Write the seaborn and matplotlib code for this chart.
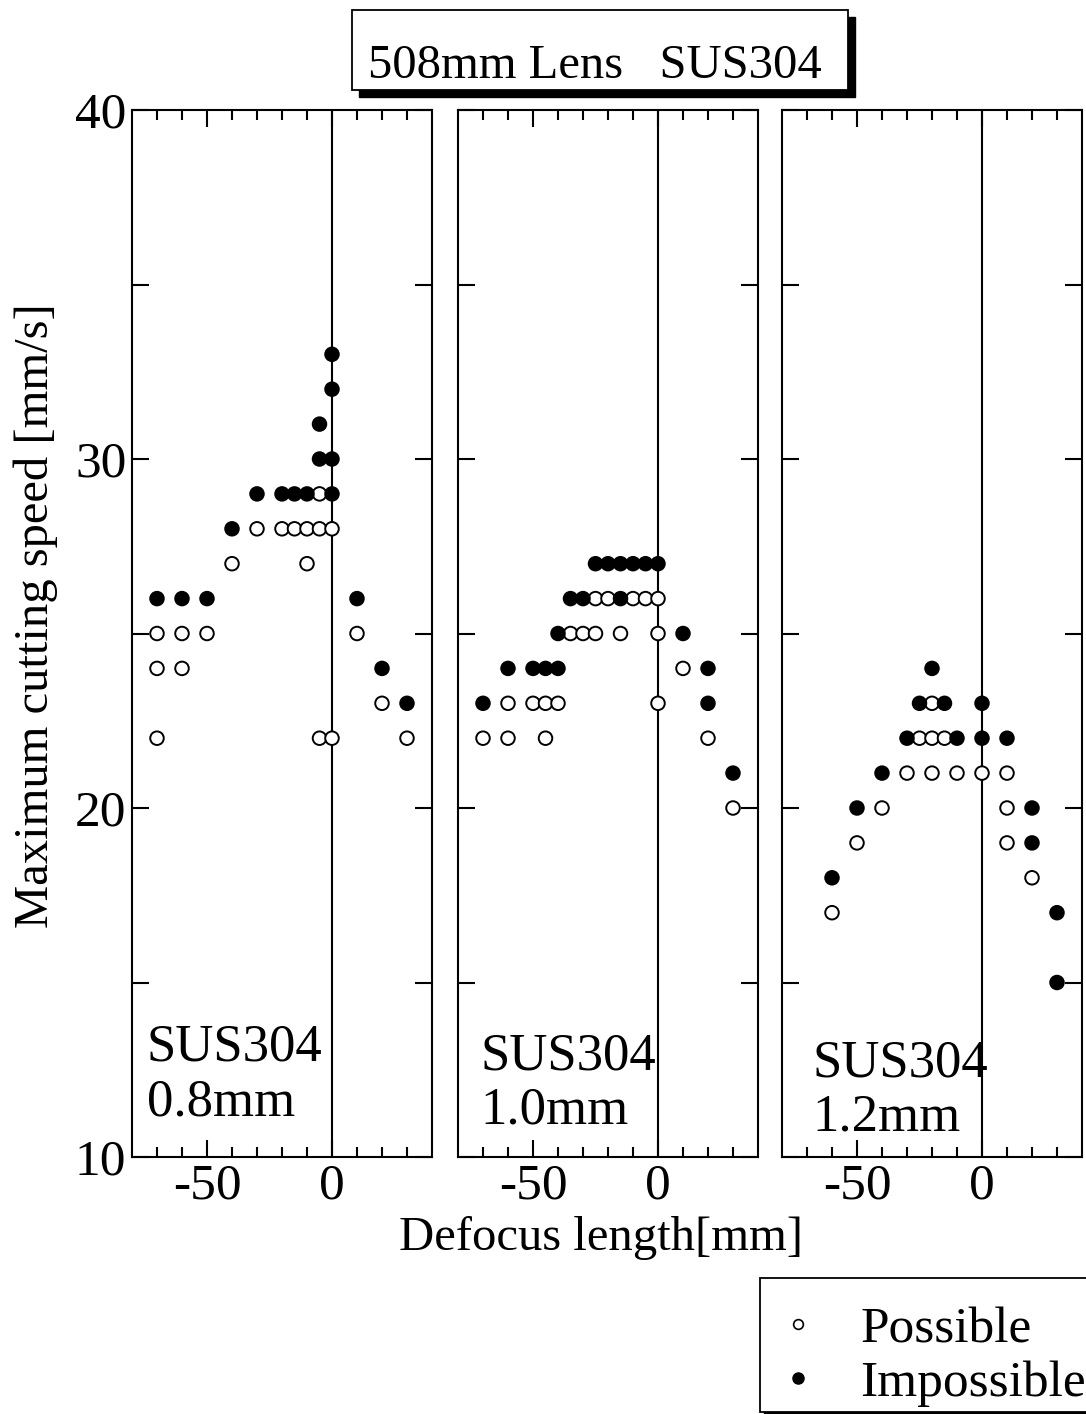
import numpy as np
import pandas as pd
import matplotlib
matplotlib.use("Agg")
import matplotlib.pyplot as plt
from matplotlib.lines import Line2D
from matplotlib.patches import Rectangle
import seaborn as sns

sns.set_style("ticks")
plt.rcParams['font.family'] = ['Liberation Serif', 'DejaVu Serif']
for key in ['text.color', 'axes.labelcolor', 'xtick.color', 'ytick.color', 'axes.edgecolor']:
    plt.rcParams[key] = 'black'

thickness_labels = ['0.8mm', '1.0mm', '1.2mm']

# 0.8mm : possible / impossible  (defocus [mm], speed [mm/s])
ok_x_08 = [-5, -30, -20, -15, -10, -5, 0, -40, -10, -70, -60, -50, 10, -70, -60, 20, -70, -5, 0, 30]
ok_y_08 = [29, 28, 28, 28, 28, 28, 28, 27, 27, 25, 25, 25, 25, 24, 24, 23, 22, 22, 22, 22]
ng_x_08 = [0, 0, -5, -5, 0, -30, -20, -15, -10, 0, -40, -70, -60, -50, 10, 20, 30]
ng_y_08 = [33, 32, 31, 30, 30, 29, 29, 29, 29, 29, 28, 26, 26, 26, 26, 24, 23]

# 1.0mm
ok_x_10 = [-25, -20, -10, -5, 0, -35, -30, -25, -15, 0, 10, -60, -50, -45, -40, 0, -70, -60, -45, 20, 30]
ok_y_10 = [26, 26, 26, 26, 26, 25, 25, 25, 25, 25, 24, 23, 23, 23, 23, 23, 22, 22, 22, 22, 20]
ng_x_10 = [-25, -20, -15, -10, -5, 0, -35, -30, -15, -40, 10, -60, -50, -45, -40, 20, -70, 20, 30]
ng_y_10 = [27, 27, 27, 27, 27, 27, 26, 26, 26, 25, 25, 24, 24, 24, 24, 24, 23, 23, 21]

# 1.2mm
ok_x_12 = [-20, -25, -20, -15, -30, -20, -10, 0, 10, -40, 10, -50, 10, 20, -60]
ok_y_12 = [23, 22, 22, 22, 21, 21, 21, 21, 21, 20, 20, 19, 19, 18, 17]
ng_x_12 = [-20, -25, -15, 0, -30, -10, 0, 10, -40, -50, 20, 20, -60, 30, 30]
ng_y_12 = [24, 23, 23, 23, 22, 22, 22, 22, 21, 20, 20, 19, 18, 17, 15]

ok_x = [ok_x_08, ok_x_10, ok_x_12]
ok_y = [ok_y_08, ok_y_10, ok_y_12]
ng_x = [ng_x_08, ng_x_10, ng_x_12]
ng_y = [ng_y_08, ng_y_10, ng_y_12]

frames = []
for i, t in enumerate(thickness_labels):
    frames.append(pd.DataFrame({'defocus': ok_x[i], 'speed': ok_y[i], 'result': 'Possible', 'thick': t}))
    frames.append(pd.DataFrame({'defocus': ng_x[i], 'speed': ng_y[i], 'result': 'Impossible', 'thick': t}))
df = pd.concat(frames, ignore_index=True)

W, H = 1086, 1414
fig = plt.figure(figsize=(W / 100, H / 100), dpi=100)

panel_left = [132, 458, 782]
ax_top, ax_bot = 110, 1157
text_pos = [(-74, 11.2), (-71, 10.95), (-68, 10.75)]

palette = {'Possible': 'white', 'Impossible': 'black'}

for i, t in enumerate(thickness_labels):
    ax = fig.add_axes([panel_left[i] / W, 1 - ax_bot / H, 300 / W, (ax_bot - ax_top) / H])
    sub = df[df['thick'] == t]
    ax.axvline(0, color='black', lw=1.5, zorder=1)
    sns.scatterplot(data=sub, x='defocus', y='speed', hue='result', palette=palette,
                    edgecolor='black', linewidth=1.4, s=95, legend=False, ax=ax, zorder=3)
    ax.set_xlim(-80, 40)
    ax.set_ylim(10, 40)
    ax.set_xticks([-50, 0])
    ax.set_xticks([-70, -60, -40, -30, -20, -10, 10, 20, 30], minor=True)
    ax.set_xticklabels(['-50', '0'])
    ax.set_yticks([10, 15, 20, 25, 30, 35, 40])
    if i == 0:
        ax.set_yticklabels(['10', '', '20', '', '30', '', '40'])
    else:
        ax.set_yticklabels([])
    ax.tick_params(which='both', direction='in', top=True, right=True, width=1.5, labelsize=37)
    ax.tick_params(which='major', length=12, pad=4)
    ax.tick_params(which='minor', length=7)
    ax.set_xlabel('')
    ax.set_ylabel('')
    for sp in ax.spines.values():
        sp.set_linewidth(1.5)
        sp.set_color('black')
    ax.text(text_pos[i][0], text_pos[i][1], 'SUS304\n' + t, fontsize=38,
            ha='left', va='baseline', linespacing=1.18)

fig.text(36 / W, 1 - 616 / H, 'Maximum cutting speed [mm/s]', rotation=90,
         ha='center', va='center', fontsize=35)
fig.text(601 / W, 1 - 1250 / H, 'Defocus length[mm]', ha='center', va='baseline', fontsize=35)

# title box with shadow
fig.patches.append(Rectangle((359 / W, 1 - 97 / H), 496 / W, 80 / H, transform=fig.transFigure,
                             facecolor='black', edgecolor='black', zorder=1))
fig.patches.append(Rectangle((352 / W, 1 - 90 / H), 496 / W, 80 / H, transform=fig.transFigure,
                             facecolor='white', edgecolor='black', lw=1.3, zorder=2))
fig.text(595 / W, 1 - 78 / H, '508mm Lens   SUS304', ha='center', va='baseline', fontsize=35, zorder=3)

# legend box (runs past the right edge, as in the scan)
fig.patches.append(Rectangle((764 / W, 1 - 1416 / H), 340 / W, 134 / H, transform=fig.transFigure,
                             facecolor='black', edgecolor='black', zorder=1))
fig.patches.append(Rectangle((760 / W, 1 - 1412 / H), 340 / W, 134 / H, transform=fig.transFigure,
                             facecolor='white', edgecolor='black', lw=1.3, zorder=2))

handles = [Line2D([], [], ls='none', marker='o', ms=7, mfc='white', mec='black', mew=1.2),
           Line2D([], [], ls='none', marker='o', ms=8, mfc='black', mec='black')]
leg = fig.legend(handles, ['Possible', 'Impossible'], loc='upper left',
                 bbox_to_anchor=(760 / W, 1 - 1291 / H), bbox_transform=fig.transFigure,
                 fontsize=37, frameon=False, borderpad=0.3, handlelength=0.88,
                 handletextpad=0.77, labelspacing=0.126, borderaxespad=0)
leg.set_zorder(5)

fig.savefig('out.png', dpi=100)
